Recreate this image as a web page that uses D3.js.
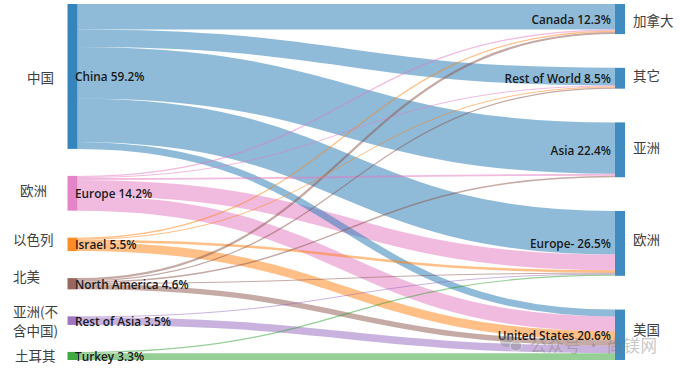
<!DOCTYPE html>
<html>
<head>
<meta charset="utf-8">
<script src="https://cdn.jsdelivr.net/npm/d3@7"></script>
<style>
  body { margin: 0; background: #fff; }
  svg { display: block; }
  .nlabel { font-family: "Open Sans", sans-serif; font-size: 11.8px; font-weight: 600; fill: #1a1a1a; }
  .zh { font-family: "Noto Sans CJK SC", sans-serif; font-size: 13.5px; fill: #404040; }
</style>
</head>
<body>
<svg id="chart" width="680" height="371"></svg>
<script>
// sources (left) and destinations (right), shares in %
const sources = ["China", "Europe", "Israel", "North America", "Rest of Asia", "Turkey"];
const sourceShares = [59.2, 14.2, 5.5, 4.6, 3.5, 3.3];
const sourceZh = ["中国", "欧洲", "以色列", "北美", "亚洲(不|含中国)", "土耳其"];
const sourceColors = ["#1f77b4", "#e377c2", "#ff7f0e", "#8c564b", "#9467bd", "#2ca02c"];

const targets = ["Canada", "Rest of World", "Asia", "Europe-", "United States"];
const targetShares = [12.3, 8.5, 22.4, 26.5, 20.6];
const targetZh = ["加拿大", "其它", "亚洲", "欧洲", "美国"];

// flows[source][target]
const flows = [
    [10.4, 7.2, 21.0, 17.8, 2.8],
    [0.5, 0.4, 0.8, 6.4, 6.1],
    [0.5, 0.4, 0.0, 1.0, 3.6],
    [0.9, 0.5, 0.6, 0.4, 2.2],
    [0.0, 0.0, 0.0, 0.4, 3.1],
    [0.0, 0.0, 0.0, 0.5, 2.8]
];

// hand placement of the chinese side labels
const zhLeftX = [27, 20, 13, 13, 13, 15];
const zhLeftDy = [0.5, -3, -5.5, -7.5, 0, -1];
const zhRightDy = [1, -3, -3, -4, -5.5];

let svg = d3.select("#chart");
let yTop = 4, yBottom = 360, nodeW = 10, padL = 27;

let xScale = d3.scaleLinear().domain([0, 1]).range([67.5, 615]);
let total = d3.sum(sourceShares);
let ky = (yBottom - yTop - (sources.length - 1) * padL) / total;
let kScale = d3.scaleLinear().domain([0, total]).range([0, total * ky]);
let padR = (yBottom - yTop - kScale(d3.sum(targetShares))) / (targets.length - 1);

function stack(shares, pad) {
    let y = yTop;
    return shares.map(s => {
        let n = { y0: y, y1: y + kScale(s) };
        y = n.y1 + pad;
        return n;
    });
}
let left = stack(sourceShares, padL);
let right = stack(targetShares, padR);

// link positions, ordered by target at source, by source at target
let links = [];
let outY = left.map(n => n.y0);
let inY = right.map(n => n.y0);
flows.forEach((row, i) => row.forEach((v, j) => {
    if (v <= 0) return;
    links.push({ s: i, t: j, v: v });
}));
links.forEach(l => {
    let w = kScale(l.v);
    l.w = w;
    l.ys = outY[l.s] + w / 2; outY[l.s] += w;
});
links.slice().sort((a, b) => a.t - b.t || a.s - b.s).forEach(l => {
    l.yt = inY[l.t] + l.w / 2; inY[l.t] += l.w;
});

let linkGen = d3.linkHorizontal();
// draw thick links first so thin ones stay visible
svg.append("g")
    .selectAll("path")
    .data(links.slice().sort((a, b) => b.v - a.v))
    .enter().append("path")
    .attr("d", d => linkGen({ source: [xScale(0) + nodeW, d.ys], target: [xScale(1), d.yt] }))
    .attr("fill", "none")
    .attr("stroke", d => sourceColors[d.s])
    .attr("stroke-opacity", 0.5)
    .attr("stroke-width", d => Math.max(d.w, 1));

// nodes
svg.append("g").selectAll("rect")
    .data(left)
    .enter().append("rect")
    .attr("x", xScale(0)).attr("width", nodeW)
    .attr("y", d => d.y0).attr("height", d => d.y1 - d.y0)
    .attr("fill", (d, i) => sourceColors[i]).attr("fill-opacity", 0.9);

svg.append("g").selectAll("rect")
    .data(right)
    .enter().append("rect")
    .attr("x", xScale(1)).attr("width", nodeW)
    .attr("y", d => d.y0).attr("height", d => d.y1 - d.y0)
    .attr("fill", "#1f77b4").attr("fill-opacity", 0.85);

// english labels
svg.append("g").selectAll("text")
    .data(left)
    .enter().append("text")
    .attr("class", "nlabel")
    .attr("x", xScale(0) + nodeW - 2.5)
    .attr("y", d => (d.y0 + d.y1) / 2)
    .attr("dominant-baseline", "central")
    .text((d, i) => sources[i] + " " + sourceShares[i] + "%");

svg.append("g").selectAll("text")
    .data(right)
    .enter().append("text")
    .attr("class", "nlabel")
    .attr("x", xScale(1) - 4)
    .attr("y", d => (d.y0 + d.y1) / 2)
    .attr("text-anchor", "end")
    .attr("dominant-baseline", "central")
    .text((d, i) => targets[i] + " " + targetShares[i].toFixed(1) + "%");

// chinese labels
left.forEach((d, i) => {
    let lines = sourceZh[i].split("|");
    let cy = (d.y0 + d.y1) / 2 + zhLeftDy[i];
    let t = svg.append("text").attr("class", "zh").attr("dominant-baseline", "central");
    lines.forEach((s, k) => {
        t.append("tspan")
            .attr("x", zhLeftX[i])
            .attr("y", cy + (k - (lines.length - 1) / 2) * 18.5)
            .text(s);
    });
});

svg.append("g").selectAll("text")
    .data(right)
    .enter().append("text")
    .attr("class", "zh")
    .attr("x", 633)
    .attr("y", (d, i) => (d.y0 + d.y1) / 2 + zhRightDy[i])
    .attr("dominant-baseline", "central")
    .text((d, i) => targetZh[i]);

// watermark
let wm = svg.append("g").attr("opacity", 0.4);
wm.append("ellipse").attr("cx", 507).attr("cy", 341).attr("rx", 7).attr("ry", 6).attr("fill", "#888");
wm.append("ellipse").attr("cx", 516).attr("cy", 346).attr("rx", 6).attr("ry", 5).attr("fill", "#888")
    .attr("stroke", "#fff").attr("stroke-width", 1);
wm.append("text")
    .attr("x", 530).attr("y", 345)
    .attr("dominant-baseline", "central")
    .style("font-family", "Noto Sans CJK SC, sans-serif")
    .style("font-size", "16.5px")
    .style("letter-spacing", "0.5px")
    .attr("fill", "#777")
    .text("公众号 · 尚镁网");
</script>
</body>
</html>
